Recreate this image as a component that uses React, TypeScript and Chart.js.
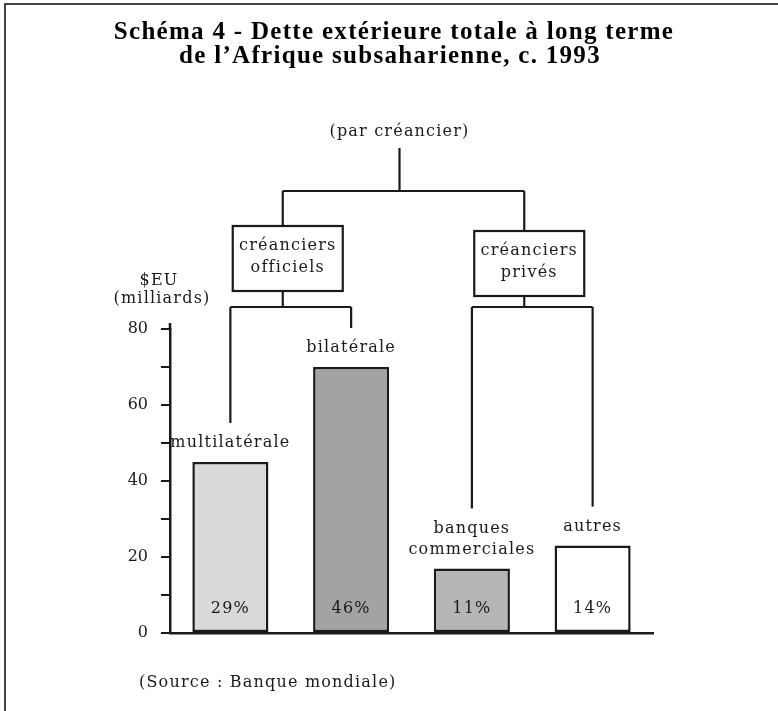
import React, { useEffect, useRef } from 'react';
import { Chart, registerables } from 'chart.js';

Chart.register(...registerables);

// ---- data ----
const categories = ['multilatérale', 'bilatérale', 'banques commerciales', 'autres'];
const barLabelLines = [['multilatérale'], ['bilatérale'], ['banques', 'commerciales'], ['autres']];
const debtValues = [45, 70, 17, 23];
const shareLabels = ['29%', '46%', '11%', '14%'];
const barColors = ['#d9d9d9', '#a3a3a3', '#b5b5b5', '#ffffff'];
const creditorGroups = [['créanciers', 'officiels'], ['créanciers', 'privés']];
const groupMembers = [[0, 1], [2, 3]];
const rootLabel = '(par créancier)';
const titleLines = ['Schéma 4 - Dette extérieure totale à long terme', 'de l\u2019Afrique subsaharienne, c. 1993'];
const yUnitLines = ['$EU', '(milliards)'];
const sourceNote = '(Source : Banque mondiale)';
const yTickLabels = [0, 20, 40, 60, 80];
const yMin = 0;
const yMax = 80;
const yStep = 10;

const BODY_FONT = '16px "DejaVu Serif"';
const INK = '#1a1a1a';

const decorPlugin = {
  id: 'decor',
  beforeDraw(chart: any) {
    const { ctx, width, height } = chart;
    ctx.save();
    ctx.fillStyle = '#ffffff';
    ctx.fillRect(0, 0, width, height);
    ctx.restore();
  },
  afterDraw(chart: any) {
    const { ctx, scales, chartArea } = chart;
    const xs = scales.x;
    const ys = scales.y;
    ctx.save();

    // frame (top and left edges)
    ctx.strokeStyle = '#444';
    ctx.lineWidth = 2;
    ctx.beginPath();
    ctx.moveTo(5, chart.height);
    ctx.lineTo(5, 4);
    ctx.lineTo(chart.width, 4);
    ctx.stroke();

    // title
    ctx.fillStyle = '#000';
    ctx.textAlign = 'center';
    ctx.textBaseline = 'alphabetic';
    ctx.font = 'bold 25px "Liberation Serif"';
    (ctx as any).letterSpacing = '1.3px';
    ctx.fillText(titleLines[0], 394, 39);
    ctx.fillText(titleLines[1], 390, 63);

    // short extension of the value axis above its last tick
    ctx.strokeStyle = INK;
    ctx.lineWidth = 2.5;
    ctx.beginPath();
    ctx.moveTo(chartArea.left, chartArea.top);
    ctx.lineTo(chartArea.left, chartArea.top - 6);
    ctx.stroke();

    // tree
    ctx.strokeStyle = INK;
    ctx.fillStyle = INK;
    ctx.lineWidth = 2.2;
    ctx.font = BODY_FONT;
    (ctx as any).letterSpacing = '1.2px';
    ctx.textBaseline = 'middle';

    const barX = categories.map((_, i) => xs.getPixelForValue(i));
    const mids = groupMembers.map(([a, b]) => (barX[a] + barX[b]) / 2 - 8);
    const rootX = (mids[0] + mids[1]) / 2 - 4;

    const line = (x1: number, y1: number, x2: number, y2: number) => {
      ctx.beginPath();
      ctx.moveTo(x1, y1);
      ctx.lineTo(x2, y2);
      ctx.stroke();
    };

    ctx.fillText(rootLabel, rootX, 132);
    line(rootX, 148, rootX, 191);
    line(mids[0], 191, mids[1], 191);

    const boxTops = [226, 231];
    const boxW = 110;
    const boxH = 65;
    const branchY = 307;
    groupMembers.forEach(([a, b], g) => {
      const mx = mids[g];
      const bt = boxTops[g];
      line(mx, 191, mx, bt);
      ctx.strokeRect(mx - boxW / 2 + 5, bt, boxW, boxH);
      const lines = creditorGroups[g];
      lines.forEach((t, k) => ctx.fillText(t, mx + 5, bt + 20 + k * 22));
      line(mx, bt + boxH, mx, branchY);
      line(barX[a], branchY, barX[b], branchY);
      [a, b].forEach((i) => {
        const top = ys.getPixelForValue(debtValues[i]);
        const lines2 = barLabelLines[i];
        const firstY = top - 19 - (lines2.length - 1) * 21;
        line(barX[i], branchY, barX[i], firstY - 20);
      });
    });

    // bar labels above bars and shares inside
    categories.forEach((_, i) => {
      const top = ys.getPixelForValue(debtValues[i]);
      const lines2 = barLabelLines[i];
      lines2.forEach((t, k) => {
        const yy = top - 19 - (lines2.length - 1 - k) * 21;
        ctx.fillText(t, barX[i], yy);
      });
      ctx.fillText(shareLabels[i], barX[i], ys.getPixelForValue(0) - 24);
    });

    // unit label
    ctx.fillText(yUnitLines[0], chartArea.left - 11, 281);
    ctx.fillText(yUnitLines[1], chartArea.left - 8, 299);

    // source
    ctx.textAlign = 'left';
    ctx.fillText(sourceNote, 139, 683);

    ctx.restore();
  },
};

export default function App() {
  const canvasRef = useRef<HTMLCanvasElement | null>(null);

  useEffect(() => {
    if (!canvasRef.current) return;
    const chart = new Chart(canvasRef.current, {
      type: 'bar',
      data: {
        labels: categories,
        datasets: [
          {
            data: debtValues,
            backgroundColor: barColors,
            borderColor: INK,
            borderWidth: 2.5,
            borderSkipped: false,
            barPercentage: 0.63,
            categoryPercentage: 1,
          },
        ],
      },
      options: {
        animation: false,
        responsive: false,
        maintainAspectRatio: false,
        layout: { padding: { top: 329, bottom: 78, left: 120, right: 125 } },
        plugins: {
          legend: { display: false },
          tooltip: { enabled: false },
          title: { display: false },
        },
        scales: {
          x: {
            type: 'category',
            offset: true,
            grid: { display: false },
            ticks: { display: false },
            border: { display: true, color: INK, width: 2.5 },
            afterFit: (s: any) => {
              s.height = 0;
            },
          },
          y: {
            min: yMin,
            max: yMax,
            ticks: {
              stepSize: yStep,
              color: INK,
              padding: 13,
              font: { family: 'DejaVu Serif', size: 16 },
              callback: (v: any) => (yTickLabels.includes(Number(v)) ? String(v) : ''),
            },
            grid: {
              display: true,
              drawOnChartArea: false,
              drawTicks: true,
              tickLength: 9,
              color: INK,
              lineWidth: 2,
            },
            border: { display: true, color: INK, width: 2.5 },
            afterFit: (s: any) => {
              s.width = 50;
            },
          },
        },
      },
      plugins: [decorPlugin],
    });
    return () => chart.destroy();
  }, []);

  return (
    <div style={{ position: 'fixed', left: 0, top: 0, width: 778, height: 711, background: '#fff' }}>
      <canvas ref={canvasRef} width={778} height={711} style={{ display: 'block', width: 778, height: 711 }} />
    </div>
  );
}
